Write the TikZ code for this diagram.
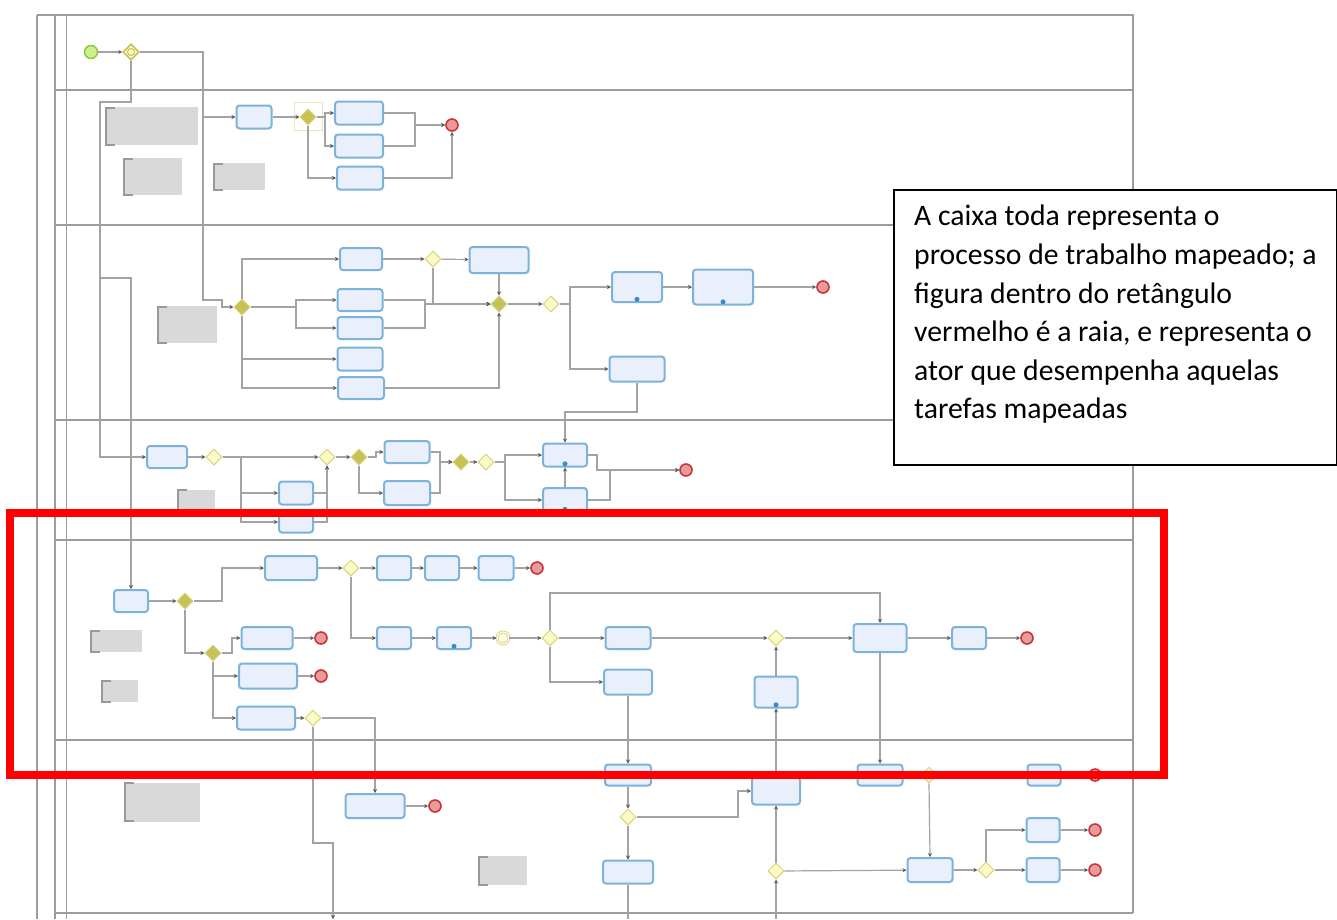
\documentclass[tikz,border=0pt]{standalone}
\usepackage{fontspec}
\setmainfont{Carlito}
\usetikzlibrary{arrows.meta, shapes.geometric, positioning}

\definecolor{bordaTarefa}{HTML}{7DB3DA}
\definecolor{fundoTarefa}{HTML}{EAEFFC}
\definecolor{fundoGw}{HTML}{FCFBC6}
\definecolor{bordaGw}{HTML}{D8D27C}
\definecolor{gwCheio}{HTML}{C6C253}
\definecolor{fundoFim}{HTML}{E99A9A}
\definecolor{bordaFim}{HTML}{C8363A}
\definecolor{fundoIni}{HTML}{CBF08C}
\definecolor{bordaIni}{HTML}{8EC63F}
\definecolor{linhaFluxo}{HTML}{A3A3A3}
\definecolor{linhaRaia}{HTML}{9C9C9C}
\definecolor{fundoNota}{HTML}{D9D9D9}
\definecolor{iconeAzul}{HTML}{3A8CC8}

\tikzset{
  tam/.style 2 args={minimum width=#1pt, minimum height=#2pt},
  tarefa/.style={rectangle, rounded corners=3pt, draw=bordaTarefa, fill=fundoTarefa, line width=2pt, inner sep=0pt},
  gw/.style={diamond, draw=bordaGw, fill=fundoGw, line width=1pt, minimum width=16pt, minimum height=16pt, inner sep=0pt},
  gwpar/.style={gw, fill=gwCheio},
  gwevento/.style={gw, draw=gwCheio, line width=1.6pt,
    path picture={\draw[gwCheio, line width=1pt] (path picture bounding box.center) circle (3.5pt);}},
  intermedio/.style={circle, draw=gwCheio!80, line width=0.8pt, double=white, double distance=1.2pt, fill=fundoGw!50, minimum size=12pt, inner sep=0pt},
  fim/.style={circle, draw=bordaFim, fill=fundoFim, line width=1.6pt, minimum size=12pt, inner sep=0pt},
  inicio/.style={circle, draw=bordaIni, fill=fundoIni, line width=1.4pt, minimum size=13pt, inner sep=0pt},
  nota/.style={rectangle, fill=fundoNota, inner sep=0pt,
    path picture={\draw[black!40, line width=3pt]
      ([xshift=10pt]path picture bounding box.north west) -- (path picture bounding box.north west)
      -- (path picture bounding box.south west) -- ([xshift=10pt]path picture bounding box.south west);}},
  icone/.style={circle, fill=iconeAzul, minimum size=5pt, inner sep=0pt, anchor=south},
  fluxo/.style={draw=linhaFluxo, line width=1.2pt, -{Stealth[length=4pt,width=4pt,color=black!65]}},
  raia/.style={draw=linhaRaia, line width=1.6pt},
}

\begin{document}
\begin{tikzpicture}[x=1pt,y=-1pt]
\useasboundingbox (0,0) rectangle (1337,919);
\fill[white] (0,0) rectangle (1337,919);

% Moldura do processo e raias
\draw[raia] (37,15) -- (1133,15) -- (1133,913);
\draw[raia] (37,15) -- (37,919);
\draw[raia] (55,15) -- (55,919);
\draw[linhaRaia, line width=0.8pt] (66,15) -- (66,919);
\foreach \y in {90,225,420,540,740,913}
  \draw[raia] (55,\y) -- (1133,\y);

% Raia 1: evento de início
\node[inicio] (ini) at (91,52) {};
\node[gwevento] (g0) at (131,52) {};
\draw[fluxo] (ini) -- (g0);

% Raia 2
\node[nota, tam={93}{38}] (n1) at (151.5,126) {};
\node[nota, tam={59}{37}] (n2) at (152.5,176.5) {};
\node[nota, tam={52}{27}] (n3) at (239,176.5) {};
\node[tarefa, tam={35}{23}] (a1) at (254,117) {};
\draw[gwCheio!40, line width=0.8pt] (294,102) rectangle (322,130);
\node[gwpar] (ga) at (308,117) {};
\node[tarefa, tam={48}{23}] (b1) at (359,113) {};
\node[tarefa, tam={48}{23}] (b2) at (359,146) {};
\node[tarefa, tam={46}{23}] (b3) at (360,178) {};
\node[fim] (fa) at (452,125) {};
\draw[fluxo] (g0.east) -- (203,52) |- (a1.west);
\draw[fluxo] (a1) -- (ga);
\draw[fluxo] (ga.east) -- (325,117) |- (b1.west);
\draw[fluxo] (ga.east) -- (325,117) |- (b2.west);
\draw[fluxo] (ga.south) |- (b3.west);
\draw[fluxo] (b1.east) -- (415,113) |- (fa.west);
\draw[fluxo] (b2.east) -- (415,146) |- (fa.west);
\draw[fluxo] (b3.east) -| (fa.south);

% Raia 3
\node[nota, tam={60}{37}] (n4) at (187,324.5) {};
\node[gwpar] (gc) at (242,307) {};
\node[tarefa, tam={42}{22}] (c1) at (361,259) {};
\node[tarefa, tam={45}{22}] (c2) at (360,300) {};
\node[tarefa, tam={45}{22}] (c3) at (360,328) {};
\node[tarefa, tam={45}{23}] (c4) at (360,359) {};
\node[tarefa, tam={46}{22}] (c5) at (361,388) {};
\node[gw] (gcx) at (433,259) {};
\node[tarefa, tam={59}{26}] (c6) at (499,260) {};
\node[gwpar] (gcj) at (499,304) {};
\node[gw] (gcy) at (551,304) {};
\node[tarefa, tam={50}{30}] (c7) at (637,287) {};
\node[icone] at ([yshift=1pt]c7.south) {};
\node[tarefa, tam={60}{35}] (c8) at (723,287) {};
\node[icone] at ([yshift=1pt]c8.south) {};
\node[fim] (fc) at (823,287) {};
\node[tarefa, tam={55}{25}] (c9) at (637,369) {};
\draw[fluxo] (g0.east) -- (203,52) -- (203,300) -- (222,300) |- (gc.west);
\draw[fluxo] (gc.north) |- (c1.west);
\draw[fluxo] (gc.east) -- (296,307) |- (c2.west);
\draw[fluxo] (gc.east) -- (296,307) |- (c3.west);
\draw[fluxo] (gc.south) |- (c4.west);
\draw[fluxo] (gc.south) |- (c5.west);
\draw[fluxo] (c1) -- (gcx);
\draw[fluxo] (gcx) -- (c6);
\draw[fluxo] (gcx.south) |- (gcj.west);
\draw[fluxo] (c2.east) -- (425,300) |- (gcj.west);
\draw[fluxo] (c3.east) -- (425,328) |- (gcj.west);
\draw[fluxo] (c6) -- (gcj);
\draw[fluxo] (c5.east) -| (gcj.south);
\draw[fluxo] (gcj) -- (gcy);
\draw[fluxo] (gcy.east) -- (570,304) |- (c7.west);
\draw[fluxo] (gcy.east) -- (570,304) |- (c9.west);
\draw[fluxo] (c7) -- (c8);
\draw[fluxo] (c8) -- (fc);

% Raia 4
\node[tarefa, tam={40}{22}] (d1) at (167,457) {};
\node[gw] (dg1) at (214,457) {};
\node[nota, tam={38}{21}] (n5) at (196,500) {};
\node[tarefa, tam={34}{23}] (d2) at (296,493) {};
\node[tarefa, tam={34}{21}] (d3) at (296,522) {};
\node[gw] (dg2) at (327,457) {};
\node[gwpar] (dg3) at (359,457) {};
\node[tarefa, tam={45}{22}] (d4) at (407,452) {};
\node[tarefa, tam={46}{24}] (d5) at (407,493) {};
\node[gwpar] (dg4) at (461,462) {};
\node[gw] (dg5) at (486,462) {};
\node[tarefa, tam={44}{23}] (d6) at (565,455) {};
\node[icone] at ([yshift=1pt]d6.south) {};
\node[tarefa, tam={44}{24}] (d7) at (565,500) {};
\node[icone] at ([yshift=1pt]d7.south) {};
\node[fim] (fd) at (686,470) {};
\draw[fluxo] (g0.south) -- (131,102) -- (100,102) |- (d1.west);
\draw[fluxo] (d1) -- (dg1);
\draw[fluxo] (dg1) -- (dg2);
\draw[fluxo] (dg1.east) -- (241,457) |- (d2.west);
\draw[fluxo] (dg1.east) -- (241,457) |- (d3.west);
\draw[fluxo] (d2.east) -| (dg2.south);
\draw[fluxo] (d3.east) -| (dg2.south);
\draw[fluxo] (dg2) -- (dg3);
\draw[fluxo] (dg3.east) -- (376,457) |- (d4.west);
\draw[fluxo] (dg3.south) |- (d5.west);
\draw[fluxo] (d4.east) -- (440,452) |- (dg4.west);
\draw[fluxo] (d5.east) -- (440,493) |- (dg4.west);
\draw[fluxo] (dg4) -- (dg5);
\draw[fluxo] (dg5.east) -- (505,462) |- (d6.west);
\draw[fluxo] (dg5.east) -- (505,462) |- (d7.west);
\draw[fluxo] (d6.east) -- (597,455) |- (fd.west);
\draw[fluxo] (d7.east) -- (610,500) |- (fd.west);
\draw[fluxo] (d7.north) -- (d6.south);
\draw[fluxo] (c9.south) -- (637,412) -| (d6.north);

% Raia 5 (a raia destacada)
\node[tarefa, tam={34}{22}] (e1) at (131,601) {};
\node[gwpar] (eg1) at (185,601) {};
\node[tarefa, tam={52}{24}] (e2) at (291,568) {};
\node[gw] (eg2) at (351,568) {};
\node[tarefa, tam={34}{24}] (e3) at (394,568) {};
\node[tarefa, tam={34}{24}] (e4) at (442,568) {};
\node[tarefa, tam={35}{24}] (e5) at (496,568) {};
\node[fim] (fe1) at (537,568) {};
\node[gwpar] (eg3) at (213,653) {};
\node[tarefa, tam={51}{22}] (e6) at (267,638) {};
\node[fim] (fe2) at (321,638) {};
\node[tarefa, tam={58}{25}] (e7) at (268,676) {};
\node[fim] (fe3) at (321,676) {};
\node[tarefa, tam={58}{23}] (e8) at (266,718) {};
\node[gw] (eg4) at (313,718) {};
\node[nota, tam={52}{22}] (n6) at (116,641) {};
\node[nota, tam={37}{22}] (n7) at (119.5,691) {};
\node[tarefa, tam={34}{22}] (e9) at (394,638) {};
\node[tarefa, tam={34}{22}] (e10) at (454,638) {};
\node[icone] at ([yshift=1pt]e10.south) {};
\node[intermedio] (ei) at (503,638) {};
\node[gw] (eg5) at (550,638) {};
\node[tarefa, tam={45}{22}] (e11) at (628,638) {};
\node[gw] (eg6) at (776,638) {};
\node[tarefa, tam={53}{28}] (e12) at (880,638) {};
\node[tarefa, tam={34}{22}] (e13) at (969,638) {};
\node[fim] (fe4) at (1027,638) {};
\node[tarefa, tam={48}{25}] (e14) at (628,682) {};
\node[tarefa, tam={43}{31}] (e15) at (776,692) {};
\node[icone] at ([yshift=1pt]e15.south) {};
\draw[fluxo] (g0.south) -- (131,102) -- (100,102) -- (100,278) -| (e1.north);
\draw[fluxo] (e1) -- (eg1);
\draw[fluxo] (eg1.east) -- (222,601) |- (e2.west);
\draw[fluxo] (eg1.south) |- (eg3.west);
\draw[fluxo] (e2) -- (eg2);
\draw[fluxo] (eg2) -- (e3);
\draw[fluxo] (e3) -- (e4);
\draw[fluxo] (e4) -- (e5);
\draw[fluxo] (e5) -- (fe1);
\draw[fluxo] (eg2.south) |- (e9.west);
\draw[fluxo] (eg3.east) -- (232,653) |- (e6.west);
\draw[fluxo] (eg3.south) |- (e7.west);
\draw[fluxo] (eg3.south) |- (e8.west);
\draw[fluxo] (e6) -- (fe2);
\draw[fluxo] (e7) -- (fe3);
\draw[fluxo] (e8) -- (eg4);
\draw[fluxo] (e9) -- (e10);
\draw[fluxo] (e10) -- (ei);
\draw[fluxo] (ei) -- (eg5);
\draw[fluxo] (eg5) -- (e11);
\draw[fluxo] (eg5.north) -- (550,593) -| (e12.north);
\draw[fluxo] (eg5.south) |- (e14.west);
\draw[fluxo] (e11) -- (eg6);
\draw[fluxo] (eg6) -- (e12);
\draw[fluxo] (e15.north) -- (eg6.south);
\draw[fluxo] (e12) -- (e13);
\draw[fluxo] (e13) -- (fe4);

% Raia 6
\node[nota, tam={76}{39}] (n8) at (162,802) {};
\node[nota, tam={49}{29}] (n9) at (502.5,870.5) {};
\node[tarefa, tam={59}{24}] (f2) at (375,806) {};
\node[fim] (ff1) at (435,806) {};
\node[tarefa, tam={46}{21}] (f1) at (628,775) {};
\node[gw] (fg1) at (628,817) {};
\node[tarefa, tam={50}{23}] (f3) at (628,872) {};
\node[tarefa, tam={48}{27}] (f5) at (776,791) {};
\node[tarefa, tam={45}{21}] (f6) at (880,775) {};
\node[gw] (fg2) at (929,775) {};
\node[tarefa, tam={33}{21}] (f7) at (1044,775) {};
\node[fim] (ff2) at (1095,775) {};
\node[gw] (fg3) at (776,871) {};
\node[tarefa, tam={45}{24}] (f8) at (930,870) {};
\node[gw] (fg4) at (986,870) {};
\node[tarefa, tam={33}{24}] (f9) at (1043,830) {};
\node[tarefa, tam={33}{24}] (f10) at (1043,870) {};
\node[fim] (ff3) at (1095,830) {};
\node[fim] (ff4) at (1095,870) {};
\coordinate (saida1) at (333,919);
\coordinate (saida2) at (628,919);
\coordinate (saida3) at (776,919);
\draw[fluxo] (eg4.south) -- (313,843) -| (saida1);
\draw[fluxo] (eg4.east) -| (f2.north);
\draw[fluxo] (f2) -- (ff1);
\draw[fluxo] (e14.south) -- (f1.north);
\draw[fluxo] (e12.south) -- (f6.north);
\draw[fluxo] (f5.north) -- (e15.south);
\draw[fluxo] (f1) -- (fg1);
\draw[fluxo] (fg1.east) -- (738,817) |- (f5.west);
\draw[fluxo] (fg1) -- (f3);
\draw[linhaFluxo, line width=1.2pt] (f3.south) -- (saida2);
\draw[fluxo] (fg3.north) -- (f5.south);
\draw[fluxo] (saida3) -- (fg3.south);
\draw[fluxo] (fg3) -- (f8);
\draw[fluxo] (f6) -- (fg2);
\draw[fluxo] (fg2) -- (f7);
\draw[fluxo] (fg2.south) -- (f8.north);
\draw[fluxo] (f7) -- (ff2);
\draw[fluxo] (f8) -- (fg4);
\draw[fluxo] (fg4.north) |- (f9.west);
\draw[fluxo] (fg4) -- (f10);
\draw[fluxo] (f9) -- (ff3);
\draw[fluxo] (f10) -- (ff4);

% Retângulo vermelho sobre a raia
\draw[red, line width=8pt] (10,513) rectangle (1164,775);

% Caixa de explicação
\node[draw=black, fill=white, line width=1.5pt, anchor=north west, tam={443}{275}] (obs) at (893,189) {};
\node[anchor=north west, inner sep=0pt, align=left, font=\fontsize{29.7}{38.6}\selectfont] (obstexto) at (914,205)
  {A caixa toda representa o\\processo de trabalho mapeado; a\\figura dentro do retângulo\\vermelho é a raia, e representa o\\ator que desempenha aquelas\\tarefas mapeadas};
\end{tikzpicture}
\end{document}
